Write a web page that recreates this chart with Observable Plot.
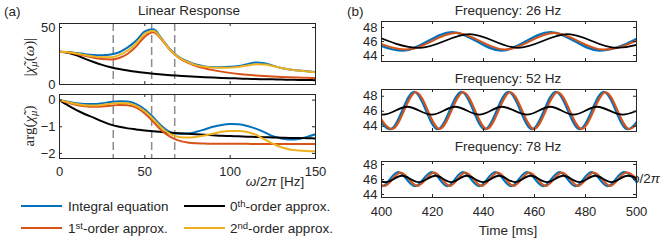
<!DOCTYPE html>
<html><head><meta charset="utf-8">
<script src="https://cdn.jsdelivr.net/npm/d3@7"></script>
<script src="https://cdn.jsdelivr.net/npm/@observablehq/plot@0.6"></script>
<style>
body{margin:0;background:#fff;}
#root{position:relative;width:661px;height:246px;overflow:hidden;font-family:"Liberation Sans",Arial,Helvetica,sans-serif;color:#262626;}
#root > *{position:absolute;}
</style></head>
<body><div id="root"></div>
<script>
// ---------- Panel (a): linear response ----------
const freqHz = [0,5,10,15,20,25,30,35,40,45,50,55,60,65,70,75,80,85,90,95,100,105,110,115,120,125,130,135,140,145,150];
const magIntegral = [28.7,28.4,27.6,26.6,25.9,25.7,26.3,28.3,32.5,38.5,46.5,48.4,40,30.5,24,20.3,17.5,15.8,15.2,15.2,15.5,16.3,17.8,19.2,18.6,16.5,14.5,13.2,12.3,11.6,11.0];
const magZeroth   = [28.7,27.8,25.5,22.5,19.7,17.2,15.2,13.6,12.3,11.2,10.3,9.5,8.8,8.2,7.7,7.2,6.8,6.4,6.1,5.8,5.5,5.3,5.0,4.8,4.6,4.5,4.3,4.2,4.0,3.9,3.8];
const magFirst    = [28.7,28.1,26.8,25.1,23.5,22.4,22.0,23.3,27.0,33.5,42,45.8,39,29.8,23.3,19.2,16.2,14.2,12.6,11.3,10.2,9.3,8.5,7.9,7.4,7.0,6.6,6.3,6.1,5.9,5.7];
const magSecond   = [28.7,28.2,27.2,25.8,24.6,23.9,24.0,25.8,29.8,36.3,44.5,47.2,39.5,30,23.6,19.8,17,15.5,14.8,14.6,14.8,15.4,16.7,17.8,17.6,16.2,14.5,13.2,12.2,11.3,10.6];

const phaseIntegral = [0,-0.06,-0.12,-0.15,-0.15,-0.12,-0.07,-0.04,-0.05,-0.15,-0.35,-0.65,-0.98,-1.2,-1.26,-1.25,-1.19,-1.1,-1.0,-0.93,-0.9,-0.91,-0.97,-1.07,-1.2,-1.35,-1.44,-1.48,-1.46,-1.38,-1.28];
const phaseZeroth   = [0,-0.2,-0.38,-0.53,-0.66,-0.8,-0.92,-1.0,-1.06,-1.1,-1.14,-1.17,-1.2,-1.22,-1.24,-1.26,-1.28,-1.3,-1.32,-1.34,-1.35,-1.36,-1.37,-1.38,-1.39,-1.4,-1.41,-1.42,-1.42,-1.43,-1.44];
const phaseFirst    = [0,-0.1,-0.18,-0.23,-0.25,-0.24,-0.21,-0.18,-0.19,-0.28,-0.5,-0.82,-1.15,-1.38,-1.52,-1.59,-1.62,-1.63,-1.64,-1.64,-1.64,-1.64,-1.64,-1.65,-1.65,-1.65,-1.65,-1.65,-1.65,-1.65,-1.65];
const phaseSecond   = [0,-0.08,-0.15,-0.19,-0.2,-0.18,-0.14,-0.11,-0.12,-0.22,-0.42,-0.72,-1.05,-1.28,-1.38,-1.4,-1.38,-1.33,-1.26,-1.19,-1.16,-1.16,-1.2,-1.3,-1.47,-1.63,-1.77,-1.85,-1.89,-1.91,-1.92];

const markerFreqs = [31.5, 54, 67.5];
const freqTicks = [0, 50, 100, 150];
const magTicks = [0, 50];
const phaseTicks = [0, -1, -2];

// ---------- Panel (b): time responses ----------
const t26Integral = [389.2,408.5,427.7,447.0,466.2,485.5,504.7];
const v26Integral = [47.35,44.7,47.35,44.7,47.35,44.7,47.35];
const t26First    = [390.7,410.0,429.2,448.5,467.7,487.0,506.2];
const v26First    = [47.2,44.85,47.2,44.85,47.2,44.85,47.2];
const t26Zeroth   = [396.0,415.0,434.5,453.5,473.0,492.0,511.5];
const v26Zeroth   = [47.05,45.1,47.05,45.1,47.05,45.1,47.05];

const t52Integral = [394.2,403.5,412.8,422.1,431.4,440.6,449.8,459.1,468.4,477.8,487.2,496.5,505.8];
const v52Integral = [48.6,43.6,48.6,43.6,48.6,43.6,48.6,43.6,48.6,43.6,48.6,43.6,48.6];
const t52First    = [394.9,404.2,413.5,422.8,432.1,441.3,450.5,459.8,469.1,478.5,487.9,497.2,506.5];
const v52First    = [48.55,43.65,48.55,43.65,48.55,43.65,48.55,43.65,48.55,43.65,48.55,43.65,48.55];
const t52Zeroth   = [391.3,400.6,410.1,419.7,428.9,438.4,447.2,457.0,466.2,475.3,484.5,494.4,503.5];
const v52Zeroth   = [46.6,45.55,46.6,45.55,46.6,45.55,46.6,45.55,46.6,45.55,46.6,45.55,46.6];

const t78Integral = [393.9,400.2,406.5,413.1,419.7,425.8,431.9,438.3,444.6,450.8,457.0,463.4,469.8,476.1,482.3,488.7,495.0,501.3];
const v78Integral = [47.0,45.1,47.0,45.1,47.0,45.1,47.0,45.1,47.0,45.1,47.0,45.1,47.0,45.1,47.0,45.1,47.0,45.1];
const t78First    = [394.9,401.2,407.5,414.1,420.7,426.8,432.9,439.3,445.6,451.8,458.0,464.4,470.8,477.1,483.3,489.7,496.0,502.3];
const v78First    = [46.95,45.15,46.95,45.15,46.95,45.15,46.95,45.15,46.95,45.15,46.95,45.15,46.95,45.15,46.95,45.15,46.95,45.15];
const t78Zeroth   = [395.4,401.7,408.0,414.6,421.2,427.3,433.4,439.8,446.1,452.3,458.5,464.9,471.3,477.6,483.8,490.2,496.5,502.8];
const v78Zeroth   = [46.5,45.65,46.5,45.65,46.5,45.65,46.5,45.65,46.5,45.65,46.5,45.65,46.5,45.65,46.5,45.65,46.5,45.65];

const timeTicks = [400, 420, 440, 460, 480, 500];
const voltTicks = [44, 46, 48];

const C = {integral:"#0072BD", first:"#D95319", second:"#EDB120", zeroth:"#000000"};
const AX = "#262626";

function pts(xs, ys){ return xs.map((x,i)=>({x, y: ys[i]})); }
function line(xs, ys, color, w=2){
  return Plot.line(pts(xs, ys), {x:"x", y:"y", stroke: color, strokeWidth: w, curve:"monotone-x", clip:true});
}

function panel({left, top, W, H, ml, mr, mt, mb, xDomain, yDomain, xTicks, yTicks, xLabels, xPad, dataMarks}){
  const marks = [
    ...dataMarks,
    Plot.frame({stroke: AX, strokeWidth: 1}),
    Plot.tickX(xTicks, {x: d=>d, insetTop: H-3, stroke: AX}),
    Plot.tickX(xTicks, {x: d=>d, insetBottom: H-3, stroke: AX}),
    Plot.tickY(yTicks, {y: d=>d, insetRight: W-3, stroke: AX}),
    Plot.tickY(yTicks, {y: d=>d, insetLeft: W-3, stroke: AX}),
    Plot.axisY(yTicks, {tickSize: 0, tickPadding: 4, label: null, fill: AX}),
  ];
  if (xLabels) marks.push(Plot.axisX(xTicks, {tickSize: 0, tickPadding: xPad, label: null, fill: AX}));
  const svg = Plot.plot({
    width: ml+W+mr, height: mt+H+mb,
    marginLeft: ml, marginRight: mr, marginTop: mt, marginBottom: mb,
    x: {domain: xDomain, axis: null},
    y: {domain: yDomain, axis: null},
    style: {background:"white", fontFamily:'"Liberation Sans",Arial,sans-serif', fontSize:"13px", color: AX, overflow:"visible"},
    marks
  });
  svg.style.left = left + "px";
  svg.style.top = top + "px";
  return svg;
}

const root = document.getElementById("root");

// underlay: stray axis label partly hidden behind panel (b)
const under = document.createElementNS("http://www.w3.org/2000/svg","svg");
under.setAttribute("width","661"); under.setAttribute("height","246");
under.style.left="0px"; under.style.top="0px";
under.innerHTML = `<text x="629" y="183" font-family="Liberation Sans,Arial,sans-serif" font-size="13.5" fill="${AX}"><tspan font-style="italic">ω</tspan>/2<tspan font-style="italic">π</tspan></text>`;
root.appendChild(under);

// Panel (a) magnitude
root.appendChild(panel({
  left:19, top:19, W:256, H:61, ml:40, mr:4, mt:4, mb:4,
  xDomain:[0,150], yDomain:[0,53.5], xTicks:freqTicks, yTicks:magTicks, xLabels:false,
  dataMarks:[
    Plot.ruleX(markerFreqs, {stroke:"#8c8c8c", strokeWidth:1.5, strokeDasharray:"8,4"}),
    line(freqHz, magIntegral, C.integral),
    line(freqHz, magZeroth, C.zeroth),
    line(freqHz, magFirst, C.first),
    line(freqHz, magSecond, C.second),
  ]
}));
// Panel (a) phase
root.appendChild(panel({
  left:19, top:90, W:256, H:64, ml:40, mr:4, mt:4, mb:24,
  xDomain:[0,150], yDomain:[-2.19,0.21], xTicks:freqTicks, yTicks:phaseTicks, xLabels:true, xPad:8,
  dataMarks:[
    Plot.ruleX(markerFreqs, {stroke:"#8c8c8c", strokeWidth:1.5, strokeDasharray:"8,4"}),
    line(freqHz, phaseIntegral, C.integral),
    line(freqHz, phaseZeroth, C.zeroth),
    line(freqHz, phaseFirst, C.first),
    line(freqHz, phaseSecond, C.second),
  ]
}));
// Panel (b) 26 Hz
root.appendChild(panel({
  left:345, top:19, W:255, H:40, ml:36, mr:1, mt:2, mb:2,
  xDomain:[400,500], yDomain:[43.15,48.85], xTicks:timeTicks, yTicks:voltTicks, xLabels:false,
  dataMarks:[
    line(t26Integral, v26Integral, C.integral, 2.2),
    line(t26First, v26First, C.first, 2),
    line(t26Zeroth, v26Zeroth, C.zeroth, 1.8),
  ]
}));
// Panel (b) 52 Hz
root.appendChild(panel({
  left:345, top:87, W:255, H:42, ml:36, mr:1, mt:2, mb:2,
  xDomain:[400,500], yDomain:[43.3,48.9], xTicks:timeTicks, yTicks:voltTicks, xLabels:false,
  dataMarks:[
    line(t52Integral, v52Integral, C.integral, 2.2),
    line(t52First, v52First, C.first, 2),
    line(t52Zeroth, v52Zeroth, C.zeroth, 1.8),
  ]
}));
// Panel (b) 78 Hz
root.appendChild(panel({
  left:345, top:159, W:255, H:36, ml:36, mr:1, mt:2, mb:24,
  xDomain:[400,500], yDomain:[43.6,48.4], xTicks:timeTicks, yTicks:voltTicks, xLabels:true, xPad:9,
  dataMarks:[
    line(t78Integral, v78Integral, C.integral, 2.2),
    line(t78First, v78First, C.first, 2),
    line(t78Zeroth, v78Zeroth, C.zeroth, 1.8),
  ]
}));

// overlay texts and legend
const over = document.createElementNS("http://www.w3.org/2000/svg","svg");
over.setAttribute("width","661"); over.setAttribute("height","246");
over.style.left="0px"; over.style.top="0px"; over.style.pointerEvents="none";
const SANS = 'font-family="Liberation Sans,Arial,sans-serif"';
const SERIF = 'font-family="Liberation Serif,DejaVu Serif,serif"';
const sup = (s) => `<tspan font-size="9.5" dy="-4.5">${s}</tspan><tspan dy="4.5">`;
over.innerHTML = `
<g ${SANS} font-size="13.5" fill="${AX}">
  <text x="4" y="16">(a)</text>
  <text x="189" y="15" text-anchor="middle">Linear Response</text>
  <text x="347" y="16">(b)</text>
  <text x="508" y="15" text-anchor="middle">Frequency: 26 Hz</text>
  <text x="508" y="82.5" text-anchor="middle">Frequency: 52 Hz</text>
  <text x="508" y="150.5" text-anchor="middle">Frequency: 78 Hz</text>
  <text x="275" y="186" text-anchor="middle"><tspan font-style="italic">ω</tspan>/2<tspan font-style="italic">π</tspan> [Hz]</text>
  <text x="508" y="234.5" text-anchor="middle">Time [ms]</text>
  <text x="68" y="211">Integral equation</text>
  <text x="230" y="211">0${sup("th")}-order approx.</tspan></text>
  <text x="68" y="233">1${sup("st")}-order approx.</tspan></text>
  <text x="230" y="233">2${sup("nd")}-order approx.</tspan></text>
</g>
<g ${SERIF} font-size="15" fill="${AX}">
  <text transform="translate(34,57) rotate(-90)" text-anchor="middle">|<tspan font-style="italic">χ̃</tspan><tspan font-style="italic" font-size="10.5" dy="3">μ</tspan><tspan dy="-3">(</tspan><tspan font-style="italic">ω</tspan>)|</text>
  <text transform="translate(34,126) rotate(-90)" text-anchor="middle">arg(<tspan font-style="italic">χ̃</tspan><tspan font-style="italic" font-size="10.5" dy="3">μ</tspan><tspan dy="-3">)</tspan></text>
</g>
<g stroke-width="2">
  <line x1="21" x2="62" y1="206" y2="206" stroke="${C.integral}"/>
  <line x1="184" x2="225" y1="206" y2="206" stroke="${C.zeroth}"/>
  <line x1="21" x2="62" y1="228" y2="228" stroke="${C.first}"/>
  <line x1="184" x2="225" y1="228" y2="228" stroke="${C.second}"/>
</g>`;
root.appendChild(over);
</script>
</body></html>
